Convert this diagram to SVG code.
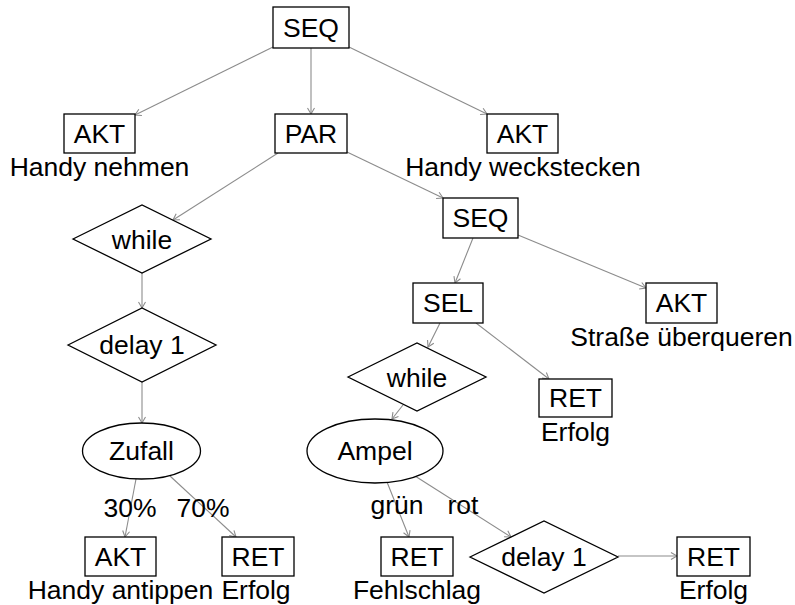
<svg xmlns="http://www.w3.org/2000/svg" width="795" height="605" viewBox="0 0 795 605">
<style>
text{font-family:"Liberation Sans",Arial,sans-serif;font-size:26.5px;fill:#000;text-anchor:middle}
.n rect,.n polygon,.n ellipse{fill:#fff;stroke:#000;stroke-width:1.3}
#edges line{stroke:#8c8c8c;stroke-width:1.1;marker-end:url(#ah)}
</style>
<defs>
<marker id="ah" markerUnits="userSpaceOnUse" markerWidth="10" markerHeight="10" viewBox="-8 -5 10 10" refX="0" refY="0" orient="auto">
<path d="M-6,-3.5 L0,0 L-6,3.5" fill="none" stroke="#8c8c8c" stroke-width="1.1"/>
</marker>
</defs>
<rect width="795" height="605" fill="#fff"/>
<g id="edges">
<line x1="273" y1="47" x2="135" y2="115"/>
<line x1="311" y1="48" x2="311" y2="114"/>
<line x1="349" y1="47" x2="487" y2="114"/>
<line x1="278" y1="153" x2="173" y2="220"/>
<line x1="347" y1="152" x2="443" y2="198"/>
<line x1="142" y1="273" x2="142" y2="308"/>
<line x1="142" y1="382" x2="142" y2="423"/>
<line x1="473" y1="238" x2="455" y2="283"/>
<line x1="518" y1="235" x2="646" y2="288"/>
<line x1="440" y1="323" x2="428" y2="347"/>
<line x1="476" y1="323" x2="549" y2="379"/>
<line x1="403" y1="405" x2="392" y2="419"/>
<line x1="136" y1="479" x2="125" y2="537"/>
<line x1="170" y1="476" x2="236" y2="537"/>
<line x1="387" y1="482" x2="409" y2="537"/>
<line x1="415" y1="476" x2="511" y2="537"/>
<line x1="618" y1="556" x2="677" y2="556"/>
<text x="130" y="517">30%</text>
<text x="203" y="517">70%</text>
<text x="397" y="514">grün</text>
<text x="463" y="514">rot</text>
</g>
<g id="seq1" class="n"><rect x="273" y="7" width="76" height="41"/><text x="311" y="37">SEQ</text></g>
<g id="akt1" class="n"><rect x="64" y="114" width="71" height="39"/><text x="99.5" y="143">AKT</text><text x="99.5" y="176">Handy nehmen</text></g>
<g id="par" class="n"><rect x="275" y="114" width="72" height="39"/><text x="311" y="143">PAR</text></g>
<g id="akt2" class="n"><rect x="487" y="114" width="71" height="39"/><text x="522.5" y="143">AKT</text><text x="523" y="176">Handy weckstecken</text></g>
<g id="while1" class="n"><polygon points="73,239 142,205 211,239 142,273"/><text x="142" y="249">while</text></g>
<g id="seq2" class="n"><rect x="443" y="198" width="75" height="40"/><text x="480.5" y="227">SEQ</text></g>
<g id="delay1" class="n"><polygon points="68,345 142,308 216,345 142,382"/><text x="142" y="354">delay 1</text></g>
<g id="sel" class="n"><rect x="413" y="283" width="70" height="40"/><text x="448" y="312">SEL</text></g>
<g id="akt3" class="n"><rect x="646" y="283" width="71" height="40"/><text x="681.5" y="312">AKT</text><text x="681.5" y="346">Straße überqueren</text></g>
<g id="while2" class="n"><polygon points="348,377 417,343 486,377 417,411"/><text x="417" y="387">while</text></g>
<g id="ret1" class="n"><rect x="539" y="379" width="73" height="38"/><text x="575.5" y="407">RET</text><text x="575.5" y="441">Erfolg</text></g>
<g id="zufall" class="n"><ellipse cx="141.5" cy="451" rx="59" ry="28"/><text x="141.5" y="460">Zufall</text></g>
<g id="ampel" class="n"><ellipse cx="375" cy="451" rx="68" ry="32"/><text x="375" y="460">Ampel</text></g>
<g id="akt4" class="n"><rect x="85" y="537" width="71" height="39"/><text x="120.5" y="566">AKT</text><text x="120.5" y="599">Handy antippen</text></g>
<g id="ret2" class="n"><rect x="222" y="537" width="72" height="39"/><text x="258" y="566">RET</text><text x="256" y="599">Erfolg</text></g>
<g id="ret3" class="n"><rect x="381" y="537" width="72" height="39"/><text x="417" y="566">RET</text><text x="417" y="599">Fehlschlag</text></g>
<g id="delay2" class="n"><polygon points="470,557 544,521 618,557 544,593"/><text x="544" y="566">delay 1</text></g>
<g id="ret4" class="n"><rect x="677" y="537" width="73" height="39"/><text x="713.5" y="566">RET</text><text x="713.5" y="599">Erfolg</text></g>
</svg>
